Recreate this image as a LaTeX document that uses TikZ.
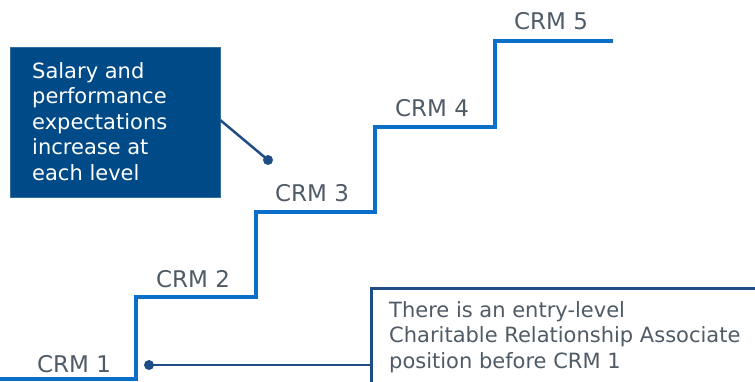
\documentclass[tikz,border=0pt]{standalone}
\usepackage{fontspec}
\setmainfont{DejaVu Sans}
\definecolor{stair}{HTML}{0A6FC9}
\definecolor{dark}{HTML}{004A87}
\definecolor{conn}{HTML}{1F4E86}
\definecolor{txt}{HTML}{4F5B66}
\tikzset{
  stairline/.style={draw=stair,line width=3.6pt,line join=miter},
  lvl/.style={text=txt,font=\fontsize{23}{27}\selectfont,inner sep=0pt,anchor=base},
  conline/.style={draw=conn,line width=2.5pt},
  dotmark/.style={circle,fill=conn,inner sep=0pt,minimum size=10pt},
  bodytxt/.style={inner sep=0pt,anchor=north west,align=left,font=\fontsize{21}{25.6}\selectfont}
}
\begin{document}
\begin{tikzpicture}[x=1pt,y=-1pt]
\useasboundingbox (0,0) rectangle (755,381);
% staircase
\coordinate (s0) at (-5,379);
\coordinate (s1) at (136,379);
\coordinate (s2) at (136,297);
\coordinate (s3) at (256,297);
\coordinate (s4) at (256,212);
\coordinate (s5) at (375,212);
\coordinate (s6) at (375,127);
\coordinate (s7) at (495,127);
\coordinate (s8) at (495,41);
\coordinate (s9) at (613,41);
\draw[stairline] (s0)--(s1)--(s2)--(s3)--(s4)--(s5)--(s6)--(s7)--(s8)--(s9);
% labels
\node[lvl] (c1) at (74,372) {CRM 1};
\node[lvl] (c2) at (193,287) {CRM 2};
\node[lvl] (c3) at (312,201) {CRM 3};
\node[lvl] (c4) at (432,116) {CRM 4};
\node[lvl] (c5) at (551,29) {CRM 5};
% box 1
\node[fill=dark,draw=dark!80,minimum width=210pt,minimum height=150pt,anchor=north west,inner sep=0pt] (b1) at (10,47) {};
\node[bodytxt,text=white] (t1) at (32,62) {Salary and\\performance\\expectations\\increase at\\each level};
\node[dotmark] (d1) at (268,160) {};
\draw[conline] (b1.east) ++(0,-2) coordinate (b1e) -- (d1.center);
% box 2
\node[fill=white,draw=conn,line width=2.5pt,minimum width=400pt,minimum height=110pt,anchor=north west,inner sep=0pt] (b2) at (370,287) {};
\node[bodytxt,text=txt] (t2) at (389,301) {There is an entry-level\\Charitable Relationship Associate\\position before CRM 1};
\node[dotmark] (d2) at (149,365) {};
\coordinate (b2w) at (b2.west |- d2);
\draw[conline] (d2.center) -- (b2w);
\end{tikzpicture}
\end{document}
